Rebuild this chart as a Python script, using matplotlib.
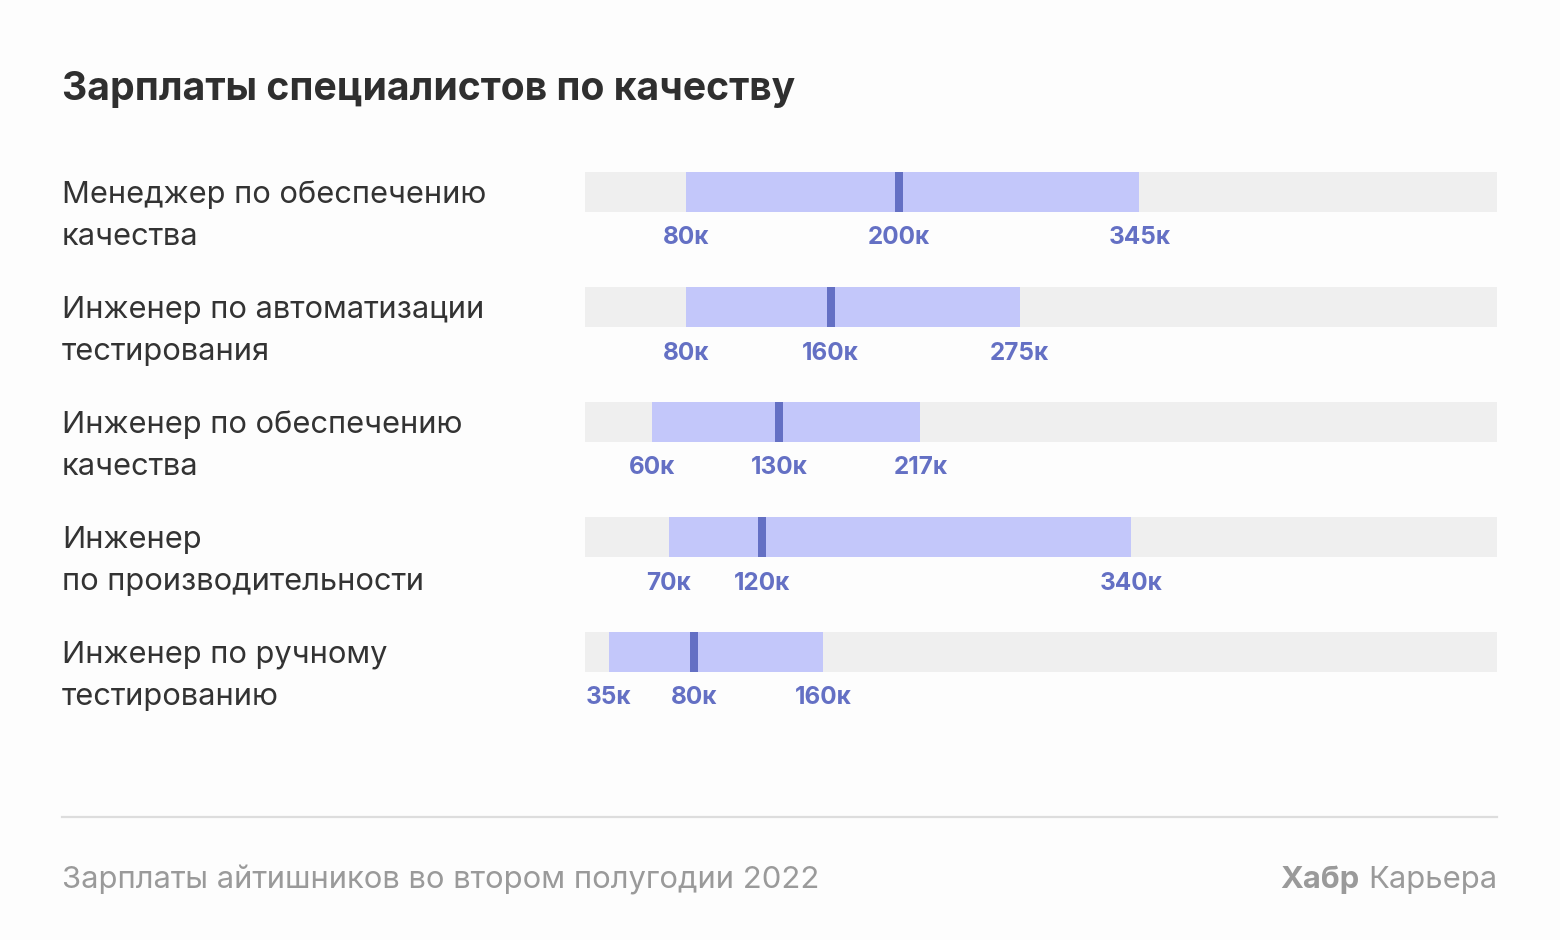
import matplotlib
matplotlib.use('Agg')
import matplotlib.pyplot as plt

plt.rcParams['font.family'] = ['Inter', 'DejaVu Sans']

# data (тысяч рублей)
roles = [
    'Менеджер по обеспечению\nкачества',
    'Инженер по автоматизации\nтестирования',
    'Инженер по обеспечению\nкачества',
    'Инженер\nпо производительности',
    'Инженер по ручному\nтестированию',
]
low = [80, 80, 60, 70, 35]
median = [200, 160, 130, 120, 80]
high = [345, 275, 217, 340, 160]

X_MIN, X_MAX = 21, 554

C = {'bg': '#fdfdfd', 'track': '#efefef', 'range': '#c3c7fa',
     'med': '#6470c4', 'title': '#2f2f2f', 'text': '#333333', 'foot': '#9a9a9a',
     'rule': '#dddddd'}

W, H = 1560, 940
fig = plt.figure(figsize=(W / 100, H / 100), dpi=100)
fig.patch.set_facecolor(C['bg'])

def fx(px): return px / W
def fy(py): return 1 - py / H

# bars axes: rows centred at 192 + 115*i px
top, bot = 192 - 57.5, 192 + 115 * 4.5
ax = fig.add_axes([fx(585), fy(bot), fx(1497) - fx(585), (bot - top) / H])
ax.set_xlim(X_MIN, X_MAX)
ax.set_ylim(len(roles) - 0.5, -0.5)
ax.axis('off')

bh = 40 / 115
ys = list(range(len(roles)))
ax.barh(ys, X_MAX - X_MIN, left=X_MIN, height=bh, color=C['track'], lw=0)
ax.barh(ys, [h - l for l, h in zip(low, high)], left=low, height=bh,
        color=C['range'], lw=0)
mw = 4.6
ax.barh(ys, mw, left=[m + mw / 2 for m in median], height=bh, color=C['med'], lw=0)

for i in ys:
    for v, off in ((low[i], 0), (median[i], mw), (high[i], 0)):
        ax.text(v + off, i + 46 / 115, f'{v}к', ha='center', va='center',
                fontsize=17.5, fontweight='bold', color=C['med'], clip_on=False)
    l1, l2 = roles[i].split('\n')
    cy = 192 + 115 * i
    fig.text(fx(62), fy(cy + 3), l1, ha='left', va='center', fontsize=22.2, color=C['text'])
    fig.text(fx(62), fy(cy + 45), l2, ha='left', va='center', fontsize=22.2, color=C['text'])

fig.text(fx(62), fy(89), 'Зарплаты специалистов по качеству', ha='left', va='center',
         fontsize=28.2, fontweight='bold', color=C['title'])

fig.add_artist(plt.Line2D([fx(62), fx(1497)], [fy(817), fy(817)], color=C['rule'], lw=1.6))

fig.text(fx(62), fy(880), 'Зарплаты айтишников во втором полугодии 2022', ha='left',
         va='center', fontsize=22.3, color=C['foot'])
t = fig.text(fx(1497), fy(880), 'Карьера', ha='right', va='center', fontsize=22.3,
             color=C['foot'])
fig.canvas.draw()
bb = t.get_window_extent()
fig.text(bb.x0 / W - fx(8), fy(880), 'Хабр', ha='right', va='center', fontsize=22.3,
         fontweight='bold', color=C['foot'])

fig.savefig('out.png', dpi=100, facecolor=C['bg'])
